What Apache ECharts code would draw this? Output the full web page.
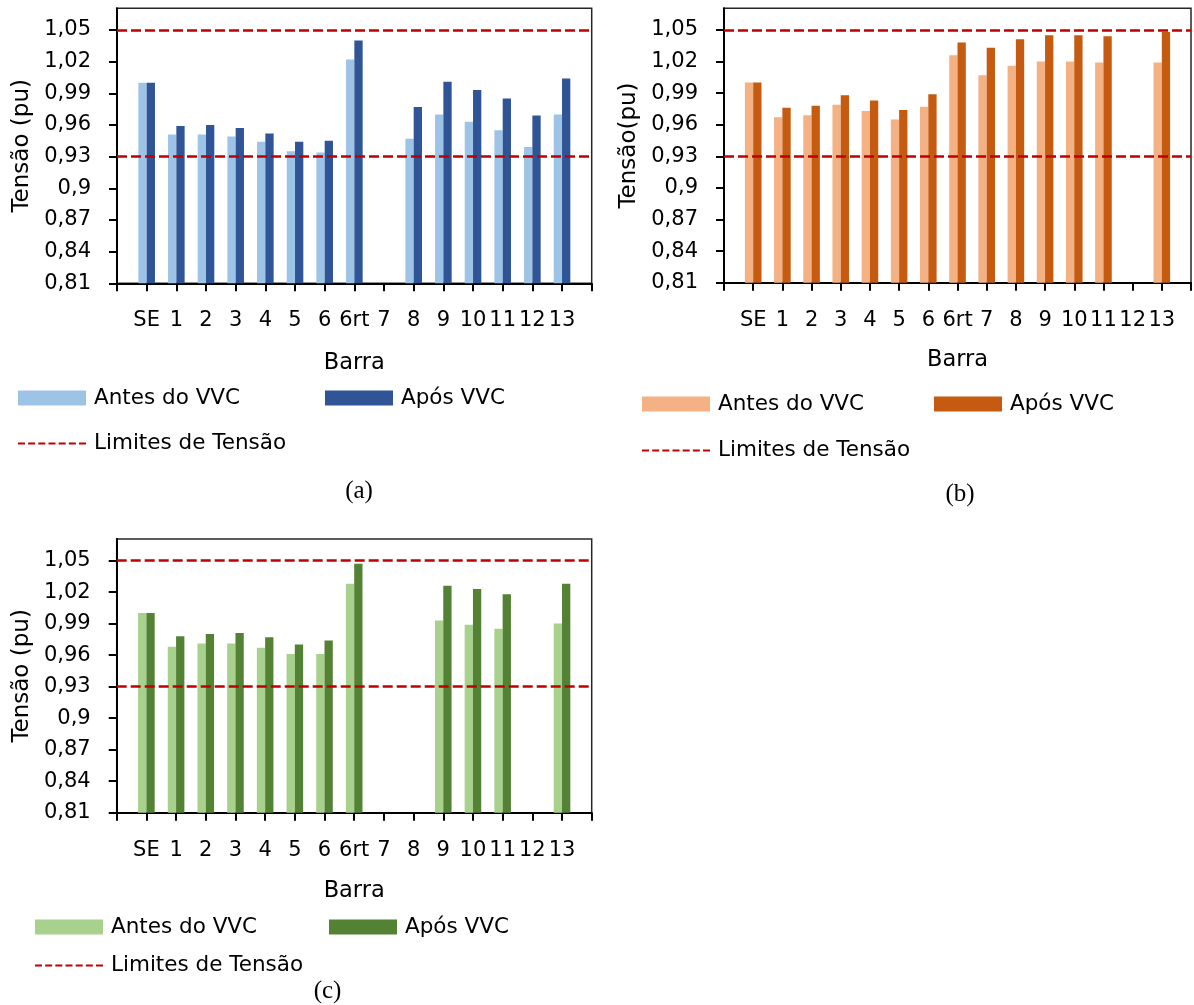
<!DOCTYPE html>
<html>
<head>
<meta charset="utf-8">
<title>Tensão por barra</title>
<script src="https://cdn.jsdelivr.net/npm/echarts@6/dist/echarts.min.js"></script>
<style>
  html, body { margin: 0; padding: 0; background: #fff; }
  body { width: 1194px; height: 1005px; position: relative; overflow: hidden; }
  .panel { position: absolute; }
</style>
</head>
<body>
<div id="pa" class="panel" style="left:0;top:0;width:597px;height:520px"></div>
<div id="pb" class="panel" style="left:597px;top:0;width:597px;height:520px"></div>
<div id="pc" class="panel" style="left:0;top:520px;width:597px;height:485px"></div>
<script>
// Bus names along the feeder
const categories = ['SE', '1', '2', '3', '4', '5', '6', '6rt', '7', '8', '9', '10', '11', '12', '13'];

// Voltage axis ticks (pu) and the allowed voltage band
const yTicks = [0.81, 0.84, 0.87, 0.90, 0.93, 0.96, 0.99, 1.02, 1.05];
const limits = [0.93, 1.05];

// Case (a)
const antesA = [1.000, 0.951, 0.951, 0.949, 0.944, 0.935, 0.934, 1.022, null, 0.947, 0.970, 0.963, 0.955, 0.939, 0.970];
const aposA  = [1.000, 0.959, 0.960, 0.957, 0.952, 0.944, 0.945, 1.040, null, 0.977, 1.001, 0.993, 0.985, 0.969, 1.004];

// Case (b)
const antesB = [1.000, 0.967, 0.969, 0.979, 0.973, 0.965, 0.977, 1.026, 1.007, 1.016, 1.020, 1.020, 1.019, null, 1.019];
const aposB  = [1.000, 0.976, 0.978, 0.988, 0.983, 0.974, 0.989, 1.038, 1.033, 1.041, 1.045, 1.045, 1.044, null, 1.048];

// Case (c)
const antesC = [1.000, 0.968, 0.971, 0.971, 0.967, 0.961, 0.961, 1.028, null, null, 0.993, 0.989, 0.985, null, 0.990];
const aposC  = [1.000, 0.978, 0.980, 0.981, 0.977, 0.970, 0.974, 1.047, null, null, 1.026, 1.023, 1.018, null, 1.028];

const FONT = 'DejaVu Sans';
const SERIF = 'Liberation Serif';

// Seven short dashes used as the legend mark of the limit lines
const DASH_ICON = 'path://M0,0h7v2.2h-7z M10.17,0h7v2.2h-7z M20.33,0h7v2.2h-7z M30.5,0h7v2.2h-7z ' +
                  'M40.67,0h7v2.2h-7z M50.83,0h7v2.2h-7z M61,0h7v2.2h-7z';

function fmtPu(v) {
  return String(+(+v).toFixed(2)).replace('.', ',');
}

function buildOption(p) {
  // empty slot before the first bus and after the last one
  const slots = ['', ...categories, ''];
  const pad = arr => [null, ...arr, null];
  const legendCommon = {
    orient: 'horizontal',
    itemWidth: 68,
    itemHeight: 15,
    itemGap: 0,
    padding: 0,
    selectedMode: false,
    textStyle: { fontFamily: FONT, fontSize: 21.5, color: '#000', padding: [0, 0, 0, 3] }
  };
  return {
    animation: false,
    backgroundColor: '#fff',
    grid: {
      left: p.grid[0], top: p.grid[1], width: p.grid[2], height: p.grid[3],
      show: true, borderColor: '#262626', borderWidth: 1.5, backgroundColor: 'transparent'
    },
    xAxis: {
      type: 'category',
      data: slots,
      boundaryGap: false,
      name: 'Barra',
      nameLocation: 'middle',
      nameGap: p.xNameGap,
      nameTextStyle: { fontFamily: FONT, fontSize: 22.5, color: '#000' },
      axisLine: { show: true, onZero: false, lineStyle: { color: '#000', width: 2 } },
      axisTick: { show: true, length: 8, lineStyle: { color: '#000', width: 2 } },
      axisLabel: { interval: 0, fontFamily: FONT, fontSize: 21, color: '#000', margin: 27 },
      splitLine: { show: false }
    },
    yAxis: {
      type: 'value',
      min: 0.81,
      max: 1.0705,
      interval: 0.03,
      name: p.yName,
      nameLocation: 'middle',
      nameGap: 82,
      nameTextStyle: { fontFamily: FONT, fontSize: 23, color: '#000' },
      axisLine: { show: true, lineStyle: { color: '#000', width: 2 } },
      axisTick: { show: true, length: 8, customValues: yTicks, lineStyle: { color: '#000', width: 2 } },
      axisLabel: {
        customValues: yTicks,
        formatter: fmtPu,
        fontFamily: FONT, fontSize: 21, color: '#000', margin: 26
      },
      splitLine: { show: false }
    },
    legend: [
      Object.assign({ left: p.leg[0], top: p.leg[2], data: [{ name: 'Antes do VVC', icon: 'rect' }] }, legendCommon),
      Object.assign({ left: p.leg[1], top: p.leg[2], data: [{ name: 'Após VVC', icon: 'rect' }] }, legendCommon),
      Object.assign({}, legendCommon, {
        left: p.leg[0], top: p.leg[3],
        itemHeight: 2.2,
        data: [{ name: 'Limites de Tensão', icon: DASH_ICON }]
      })
    ],
    graphic: [{
      type: 'text',
      x: p.caption[0], y: p.caption[1],
      style: {
        text: p.label,
        font: '25px "' + SERIF + '"',
        fill: '#000',
        align: 'center', verticalAlign: 'middle',
        textAlign: 'center', textVerticalAlign: 'middle'
      }
    }],
    series: [
      {
        type: 'bar', name: 'Antes do VVC', data: pad(p.antes),
        barWidth: 8.3, barGap: '0%',
        itemStyle: { color: p.light }
      },
      {
        type: 'bar', name: 'Após VVC', data: pad(p.apos),
        barWidth: 8.3, barGap: '0%',
        itemStyle: { color: p.dark }
      },
      {
        type: 'line', name: 'Limites de Tensão', data: [],
        symbol: 'none', z: 5,
        lineStyle: { color: '#C00000', type: [7, 3], width: 2 },
        itemStyle: { color: '#C00000' },
        markLine: {
          silent: true,
          symbol: ['none', 'none'],
          label: { show: false },
          lineStyle: { color: '#C00000', type: [10, 4], width: 2.5 },
          data: limits.map(v => ({ yAxis: v }))
        }
      }
    ]
  };
}

const panels = [
  {
    el: 'pa', label: '(a)', yName: 'Tensão (pu)',
    antes: antesA, apos: aposA, light: '#9DC3E6', dark: '#2F5597',
    grid: [117, 8.3, 474.7, 275], xNameGap: 68,
    leg: [18, 325, 387, 432.5], caption: [359, 491]
  },
  {
    el: 'pb', label: '(b)', yName: 'Tensão(pu)',
    antes: antesB, apos: aposB, light: '#F4B183', dark: '#C55A11',
    grid: [127, 8.3, 468.5, 274.4], xNameGap: 66,
    leg: [45, 337, 393, 439.5], caption: [363, 494]
  },
  {
    el: 'pc', label: '(c)', yName: 'Tensão (pu)',
    antes: antesC, apos: aposC, light: '#A9D18E', dark: '#548235',
    grid: [116.7, 19, 475, 273.7], xNameGap: 67,
    leg: [35, 329, 396, 434.5], caption: [327.5, 471]
  }
];

panels.forEach(p => {
  const chart = echarts.init(document.getElementById(p.el), null, { renderer: 'canvas' });
  chart.setOption(buildOption(p));
});
</script>
</body>
</html>
